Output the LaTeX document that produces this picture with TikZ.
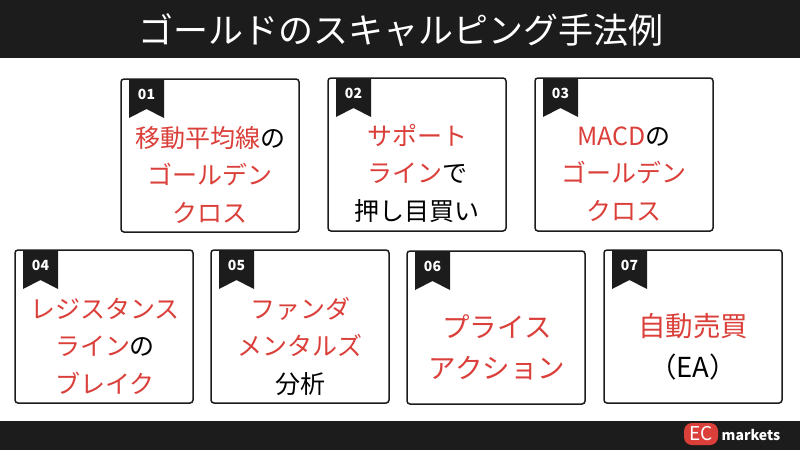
\documentclass[tikz,border=0pt]{standalone}
\usepackage{fontspec}
\setmainfont{Noto Sans CJK JP}
\usepackage{xcolor}
\definecolor{band}{HTML}{1C1C1C}
\definecolor{accent}{HTML}{DB3F3A}
\newcommand{\hl}[1]{\textcolor{accent}{#1}}
\tikzset{x=1pt, y=-1pt,
 card/.style={draw=band, line width=1.5pt, rounded corners=3pt, fill=white},
 cardtext/.style={align=center, inner sep=0pt, font=\fontsize{25}{37.5}\selectfont},
 bigtext/.style={align=center, inner sep=0pt, font=\fontsize{27.5}{41}\selectfont},
 ribbon/.style={fill=band, draw=none},
 badge/.style={text=white, inner sep=0pt, font=\fontsize{14}{14}\selectfont\bfseries},
}
\begin{document}
\begin{tikzpicture}
        \useasboundingbox (0, 0) rectangle (800, 450);
        \fill[white] (0, 0) rectangle (800, 450);
        \fill[band] (0, 0) rectangle (800, 58);
        \fill[band] (0, 421) rectangle (800, 450);
        \node[text=white, inner sep=0pt, font=\fontsize{35}{35}\selectfont] (title) at (401, 30) {ゴールドのスキャルピング手法例};
        % top row
        \draw[card] (121, 79) rectangle (299, 232);
        \draw[card] (328, 78) rectangle (506, 231);
        \draw[card] (535, 78) rectangle (713, 231);
        \fill[ribbon] (129, 79) -- (164, 79) -- (164, 118) -- (146.5, 109) -- (129, 118) -- cycle;
        \fill[ribbon] (336, 78) -- (371, 78) -- (371, 117) -- (353.5, 108) -- (336, 117) -- cycle;
        \fill[ribbon] (543, 78) -- (578, 78) -- (578, 117) -- (560.5, 108) -- (543, 117) -- cycle;
        \node[badge] (numa) at (146.5, 94) {01};
        \node[badge] (numb) at (353.5, 93) {02};
        \node[badge] (numc) at (560.5, 93) {03};
        \node[cardtext] (texta) at (210, 175) {\hl{移動平均線}の\\\hl{ゴールデン}\\\hl{クロス}};
        \node[cardtext] (textb) at (417, 173) {\hl{サポート}\\\hl{ライン}で\\押し目買い};
        \node[cardtext] (textc) at (624, 174) {\hl{MACD}の\\\hl{ゴールデン}\\\hl{クロス}};
        % bottom row
        \draw[card] (15, 250) rectangle (193, 403);
        \draw[card] (211, 250) rectangle (389, 403);
        \draw[card] (407, 251) rectangle (585, 404);
        \draw[card] (604, 250) rectangle (782, 403);
        \fill[ribbon] (23, 250) -- (58, 250) -- (58, 289) -- (40.5, 280) -- (23, 289) -- cycle;
        \fill[ribbon] (219, 250) -- (254, 250) -- (254, 289) -- (236.5, 280) -- (219, 289) -- cycle;
        \fill[ribbon] (415, 251) -- (450, 251) -- (450, 290) -- (432.5, 281) -- (415, 290) -- cycle;
        \fill[ribbon] (612, 250) -- (647, 250) -- (647, 289) -- (629.5, 280) -- (612, 289) -- cycle;
        \node[badge] (numd) at (40.5, 265) {04};
        \node[badge] (nume) at (236.5, 265) {05};
        \node[badge] (numf) at (432.5, 266) {06};
        \node[badge] (numg) at (629.5, 265) {07};
        \node[cardtext] (textd) at (105, 346) {\hl{レジスタンス}\\\hl{ライン}の\\\hl{ブレイク}};
        \node[cardtext] (texte) at (300, 346) {\hl{ファンダ}\\\hl{メンタルズ}\\分析};
        \node[bigtext] (textf) at (497, 347) {\hl{プライス}\\\hl{アクション}};
        \node[bigtext] (textg) at (693, 347) {\hl{自動売買}\\（EA）};
        % logo
        \fill[accent, rounded corners=8pt] (684, 423) rectangle (718, 445);
        \node[text=white, inner sep=0pt, font=\fontsize{19}{19}\selectfont] (logoa) at (701, 434) {EC};
        \node[text=white, inner sep=0pt, font=\fontsize{14}{14}\selectfont\bfseries] (logob) at (751, 435) {markets};
    \end{tikzpicture}
\end{document}
